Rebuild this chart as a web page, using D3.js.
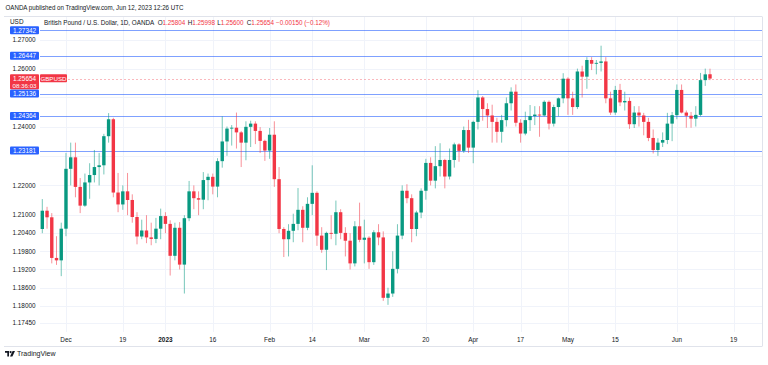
<!DOCTYPE html>
<html><head><meta charset="utf-8">
<script src="https://cdn.jsdelivr.net/npm/d3@7"></script>
<style>
body{margin:0;background:#fff}
svg{display:block}
text{font-family:"Liberation Sans",Arial,sans-serif}
</style>
</head><body>
<svg id="c" width="768" height="365"></svg>
<script>
// ---------- DATA ----------
const dates = [
"2022-11-24","2022-11-25","2022-11-28","2022-11-29","2022-11-30","2022-12-01","2022-12-02","2022-12-05","2022-12-06","2022-12-07",
"2022-12-08","2022-12-09","2022-12-12","2022-12-13","2022-12-14","2022-12-15","2022-12-16","2022-12-19","2022-12-20","2022-12-21",
"2022-12-22","2022-12-23","2022-12-27","2022-12-28","2022-12-29","2022-12-30",
"2023-01-02","2023-01-03","2023-01-04","2023-01-05","2023-01-06","2023-01-09","2023-01-10","2023-01-11","2023-01-12","2023-01-13",
"2023-01-16","2023-01-17","2023-01-18","2023-01-19","2023-01-20","2023-01-23","2023-01-24","2023-01-25","2023-01-26","2023-01-27",
"2023-01-30","2023-01-31",
"2023-02-01","2023-02-02","2023-02-03","2023-02-06","2023-02-07","2023-02-08","2023-02-09","2023-02-10","2023-02-13","2023-02-14",
"2023-02-15","2023-02-16","2023-02-17","2023-02-20","2023-02-21","2023-02-22","2023-02-23","2023-02-24","2023-02-27","2023-02-28",
"2023-03-01","2023-03-02","2023-03-03","2023-03-06","2023-03-07","2023-03-08","2023-03-09","2023-03-10","2023-03-13","2023-03-14",
"2023-03-15","2023-03-16","2023-03-17","2023-03-20","2023-03-21","2023-03-22","2023-03-23","2023-03-24","2023-03-27","2023-03-28",
"2023-03-29","2023-03-30","2023-03-31",
"2023-04-03","2023-04-04","2023-04-05","2023-04-06","2023-04-07","2023-04-10","2023-04-11","2023-04-12","2023-04-13","2023-04-14",
"2023-04-17","2023-04-18","2023-04-19","2023-04-20","2023-04-21","2023-04-24","2023-04-25","2023-04-26","2023-04-27","2023-04-28",
"2023-05-01","2023-05-02","2023-05-03","2023-05-04","2023-05-05","2023-05-08","2023-05-09","2023-05-10","2023-05-11","2023-05-12",
"2023-05-15","2023-05-16","2023-05-17","2023-05-18","2023-05-19","2023-05-22","2023-05-23","2023-05-24","2023-05-25","2023-05-26",
"2023-05-29","2023-05-30","2023-05-31",
"2023-06-01","2023-06-02","2023-06-05","2023-06-06","2023-06-07","2023-06-08","2023-06-09","2023-06-12"];

const openP = [
1.2054,1.2115,1.2093,1.1958,1.1950,1.2055,1.2256,1.2295,1.2195,1.2132,
1.2210,1.2235,1.2262,1.2268,1.2367,1.2425,1.2176,1.2136,1.2180,1.2151,
1.2094,1.2029,1.2049,1.2026,1.2021,1.2055,
1.2097,1.2071,1.1965,1.2058,1.1936,1.2090,1.2180,1.2157,1.2152,1.2218,
1.2229,1.2196,1.2282,1.2349,1.2393,1.2396,1.2380,1.2345,1.2399,1.2410,
1.2385,1.2351,
1.2318,1.2372,1.2221,1.2054,1.2020,1.2048,1.2071,1.2118,1.2058,1.2138,
1.2175,1.2032,1.1985,1.2041,1.2038,1.2110,1.2041,1.2015,1.1940,1.2063,
1.2018,1.2025,1.1944,1.2043,1.2026,1.1827,1.1841,1.1922,1.2032,1.2182,
1.2157,1.2054,1.2109,1.2182,1.2276,1.2216,1.2265,1.2286,1.2230,1.2286,
1.2339,1.2317,1.2388,
1.2328,1.2416,1.2500,1.2460,1.2438,1.2416,1.2382,1.2422,1.2480,1.2520,
1.2413,1.2376,1.2422,1.2436,1.2441,1.2438,1.2485,1.2410,1.2467,1.2497,
1.2565,1.2497,1.2467,1.2590,1.2572,1.2630,1.2617,1.2620,1.2625,1.2497,
1.2448,1.2526,1.2483,1.2488,1.2408,1.2448,1.2438,1.2416,1.2361,1.2320,
1.2345,1.2354,1.2410,
1.2439,1.2526,1.2448,1.2437,1.2427,1.2440,1.2560,1.25804];

const highP = [
1.2154,1.2128,1.2107,1.2030,1.2075,1.2310,1.2345,1.2345,1.2225,1.2240,
1.2275,1.2320,1.2310,1.2375,1.2446,1.2430,1.2242,1.2200,1.2242,1.2170,
1.2110,1.2085,1.2100,1.2075,1.2091,1.2122,
1.2110,1.2083,1.2075,1.2077,1.2100,1.2215,1.2200,1.2180,1.2245,1.2240,
1.2240,1.2292,1.2435,1.2400,1.2405,1.2448,1.2385,1.2418,1.2420,1.2418,
1.2398,1.2355,
1.2395,1.2418,1.2262,1.2060,1.2070,1.2105,1.2191,1.2130,1.2160,1.2268,
1.2180,1.2060,1.2045,1.2100,1.2149,1.2120,1.2060,1.2040,1.2080,1.2142,
1.2085,1.2030,1.2050,1.2070,1.2046,1.1860,1.1980,1.2070,1.2200,1.2204,
1.2170,1.2115,1.2190,1.2290,1.2295,1.2333,1.2343,1.2290,1.2325,1.2345,
1.2343,1.2400,1.2423,
1.2420,1.2525,1.2505,1.2480,1.2475,1.2430,1.2440,1.2500,1.2535,1.2545,
1.2425,1.2451,1.2474,1.2470,1.2470,1.2490,1.2490,1.2475,1.2500,1.2584,
1.2570,1.2520,1.2600,1.2610,1.2640,1.2640,1.2630,1.2680,1.2640,1.2520,
1.2540,1.2547,1.2520,1.2500,1.2470,1.2470,1.2447,1.2430,1.2390,1.2360,
1.2380,1.2447,1.2450,
1.2545,1.2545,1.2455,1.2450,1.2470,1.2585,1.2600,1.25998];

const lowP = [
1.2040,1.2055,1.1940,1.1935,1.1898,1.2030,1.2200,1.2160,1.2107,1.2128,
1.2155,1.2210,1.2200,1.2237,1.2345,1.2160,1.2110,1.2118,1.2100,1.2075,
1.2003,1.2020,1.2007,1.2000,1.2007,1.2020,
1.2040,1.1900,1.1950,1.1920,1.1841,1.2080,1.2120,1.2100,1.2120,1.2150,
1.2170,1.2160,1.2260,1.2300,1.2335,1.2325,1.2262,1.2285,1.2330,1.2340,
1.2310,1.2283,
1.2290,1.2195,1.2040,1.1961,1.1963,1.2010,1.2050,1.2010,1.2050,1.2100,
1.1998,1.1975,1.1918,1.2020,1.2000,1.2020,1.1963,1.1920,1.1930,1.2010,
1.1940,1.1922,1.1935,1.2000,1.1817,1.1804,1.1830,1.1907,1.2020,1.2140,
1.2010,1.2030,1.2090,1.2152,1.2200,1.2190,1.2230,1.2190,1.2220,1.2260,
1.2280,1.2310,1.2310,
1.2275,1.2390,1.2420,1.2395,1.2345,1.2345,1.2345,1.2400,1.2455,1.2400,
1.2345,1.2370,1.2385,1.2405,1.2365,1.2435,1.2390,1.2400,1.2435,1.2480,
1.2440,1.2440,1.2460,1.2500,1.2530,1.2595,1.2580,1.2590,1.2480,1.2440,
1.2440,1.2470,1.2455,1.2392,1.2395,1.2400,1.2370,1.2350,1.2308,1.2300,
1.2330,1.2340,1.2350,
1.2425,1.2445,1.2396,1.2396,1.2400,1.2435,1.2540,1.25600];

const closeP = [
1.2115,1.2093,1.1958,1.1950,1.2055,1.2256,1.2295,1.2195,1.2132,1.2210,
1.2235,1.2262,1.2268,1.2367,1.2425,1.2176,1.2136,1.2180,1.2151,1.2094,
1.2029,1.2049,1.2026,1.2021,1.2055,1.2097,
1.2071,1.1965,1.2058,1.1936,1.2090,1.2180,1.2157,1.2152,1.2218,1.2229,
1.2196,1.2282,1.2349,1.2393,1.2396,1.2380,1.2345,1.2399,1.2410,1.2385,
1.2351,1.2318,
1.2372,1.2221,1.2054,1.2020,1.2048,1.2071,1.2118,1.2058,1.2138,1.2175,
1.2032,1.1985,1.2041,1.2038,1.2110,1.2041,1.2015,1.1940,1.2063,1.2018,
1.2025,1.1944,1.2043,1.2026,1.1827,1.1841,1.1922,1.2032,1.2182,1.2157,
1.2054,1.2109,1.2182,1.2276,1.2216,1.2265,1.2286,1.2230,1.2286,1.2339,
1.2317,1.2388,1.2328,
1.2416,1.2500,1.2460,1.2438,1.2416,1.2382,1.2422,1.2480,1.2520,1.2413,
1.2376,1.2422,1.2436,1.2441,1.2438,1.2485,1.2410,1.2467,1.2497,1.2565,
1.2497,1.2467,1.2590,1.2572,1.2630,1.2617,1.2620,1.2625,1.2497,1.2448,
1.2526,1.2483,1.2488,1.2408,1.2448,1.2438,1.2416,1.2361,1.2320,1.2345,
1.2354,1.2410,1.2439,
1.2526,1.2448,1.2437,1.2427,1.2440,1.2560,1.2580,1.25654];

const priceTicks = [1.27,1.26,1.25,1.24,1.23,1.22,1.21,1.204,1.198,1.192,1.186,1.18,1.1745];
const levelLines = [1.27342,1.26447,1.25136,1.24364,1.23181];
const lastPrice = 1.25654;
const timeTickDates = ["2022-12-01","2022-12-19","2023-01-02","2023-01-16","2023-02-01","2023-02-14","2023-03-01","2023-03-20","2023-04-03","2023-04-17","2023-05-01","2023-05-15","2023-06-01","2023-06-19"];
const timeTickLabels = ["Dec","19","2023","16","Feb","14","Mar","20","Apr","17","May","15","Jun","19"];
const legendTitle = "British Pound / U.S. Dollar, 1D, OANDA";
const legendKeys = ["O","H","L","C"];
const legendValues = ["1.25804","1.25998","1.25600","1.25654"];
const legendChange = "\u22120.00150 (\u22120.12%)";

// ---------- LAYOUT ----------
const W = 768, H = 365;
const plot = {left: 40, right: 762, top: 17, bottom: 332};
const UP = "#089981", DOWN = "#f23645", TXT = "#131722", BLUE = "#2962ff", GRID = "#f0f3fa";

const svg = d3.select("#c");
svg.append("rect").attr("width", W).attr("height", H).attr("fill", "#fff");

const parse = d3.timeParse("%Y-%m-%d");
function idxOf(ds){
  const k = dates.indexOf(ds);
  if (k >= 0) return k;
  let d = parse(dates[dates.length-1]), target = parse(ds), n = dates.length-1;
  while (d < target){ d = d3.timeDay.offset(d,1); const wd = d.getDay(); if (wd>0 && wd<6) n++; }
  return n;
}

const x = d3.scaleLinear().domain([0, dates.length-1]).range([42.3, 710.0]);
const y = d3.scaleLog().domain([1.1745, 1.27]).range([323, 40]);
const fmt = d3.format(".5f");

svg.append("clipPath").attr("id","pc").append("rect")
  .attr("x", plot.left).attr("y", plot.top).attr("width", plot.right-plot.left).attr("height", plot.bottom-plot.top);

// grid
const grid = svg.append("g").attr("clip-path","url(#pc)");
grid.selectAll("line.h").data(priceTicks).join("line")
  .attr("x1", plot.left).attr("x2", plot.right)
  .attr("y1", d => Math.round(y(d))+0.5).attr("y2", d => Math.round(y(d))+0.5)
  .attr("stroke", GRID).attr("stroke-width", 1);
grid.selectAll("line.v").data(timeTickDates).join("line")
  .attr("x1", d => Math.round(x(idxOf(d)))+0.5).attr("x2", d => Math.round(x(idxOf(d)))+0.5)
  .attr("y1", plot.top).attr("y2", plot.bottom)
  .attr("stroke", GRID).attr("stroke-width", 1);

// frame
svg.append("line").attr("x1",4).attr("x2",plot.right).attr("y1",16.5).attr("y2",16.5).attr("stroke","#e0e3eb");
svg.append("line").attr("x1",4).attr("x2",plot.right).attr("y1",346.5).attr("y2",346.5).attr("stroke","#e0e3eb");
svg.append("line").attr("x1",plot.right+0.5).attr("x2",plot.right+0.5).attr("y1",16.5).attr("y2",346.5).attr("stroke","#e0e3eb");

// level lines
const lv = svg.append("g").attr("clip-path","url(#pc)");
lv.selectAll("line").data(levelLines).join("line")
  .attr("x1", plot.left).attr("x2", plot.right)
  .attr("y1", d => Math.round(y(d))+0.5).attr("y2", d => Math.round(y(d))+0.5)
  .attr("stroke", BLUE).attr("stroke-opacity", 0.6).attr("stroke-width", 1);
lv.append("line").attr("x1", plot.left).attr("x2", plot.right)
  .attr("y1", Math.round(y(lastPrice))+0.5).attr("y2", Math.round(y(lastPrice))+0.5)
  .attr("stroke", DOWN).attr("stroke-opacity", 0.35).attr("stroke-dasharray","2,2");

// candles
const data = dates.map((d,i)=>({d, i, o:openP[i], h:highP[i], l:lowP[i], c:closeP[i]}));
const cg = svg.append("g").attr("clip-path","url(#pc)");
const bw = 3.4;
cg.selectAll("line.wick").data(data).join("line")
  .attr("x1", d => x(d.i)).attr("x2", d => x(d.i))
  .attr("y1", d => y(d.h)).attr("y2", d => y(d.l))
  .attr("stroke", d => d.c >= d.o ? UP : DOWN).attr("stroke-opacity", 0.55).attr("stroke-width", 1);
cg.selectAll("rect.body").data(data).join("rect")
  .attr("x", d => x(d.i) - bw/2).attr("width", bw)
  .attr("y", d => y(Math.max(d.o,d.c)))
  .attr("height", d => Math.max(0.8, Math.abs(y(d.o)-y(d.c))))
  .attr("fill", d => d.c >= d.o ? UP : DOWN);

// price axis tick labels (those covered by a level label are hidden, as in the reference)
const labelYs = levelLines.map(v => y(v)).concat([y(lastPrice)]);
const visibleTicks = priceTicks.filter(v => labelYs.every(ly => Math.abs(ly - y(v)) > 7));
svg.append("g").selectAll("text").data(visibleTicks).join("text")
  .attr("x", 24).attr("y", d => y(d)).attr("dy","0.35em")
  .attr("text-anchor","middle").attr("font-size", 6.4).attr("fill", TXT)
  .text(d => fmt(d));

// level labels
const lb = svg.append("g");
levelLines.forEach(v => {
  const yy = y(v);
  lb.append("rect").attr("x", 10).attr("y", yy-4).attr("width", 29).attr("height", 8).attr("rx",1).attr("fill", BLUE);
  lb.append("text").attr("x", 24.5).attr("y", yy).attr("dy","0.35em").attr("text-anchor","middle")
    .attr("font-size", 6.4).attr("fill","#fff").text(fmt(v));
});
{
  const yy = y(lastPrice);
  lb.append("rect").attr("x", 10).attr("y", yy-4.3).attr("width", 29).attr("height", 15).attr("rx",1).attr("fill", DOWN);
  lb.append("text").attr("x", 24.5).attr("y", yy).attr("dy","0.35em").attr("text-anchor","middle")
    .attr("font-size", 6.4).attr("fill","#fff").text(fmt(lastPrice));
  lb.append("text").attr("x", 24.5).attr("y", yy+7).attr("dy","0.35em").attr("text-anchor","middle")
    .attr("font-size", 6.2).attr("fill","#fff").text("08:36:03");
  lb.append("rect").attr("x", 40).attr("y", yy-4.3).attr("width", 27).attr("height", 8).attr("rx",1).attr("fill", DOWN);
  lb.append("text").attr("x", 53.5).attr("y", yy).attr("dy","0.35em").attr("text-anchor","middle")
    .attr("font-size", 6.2).attr("fill","#fff").text("GBPUSD");
}

// time axis labels
svg.append("g").selectAll("text").data(timeTickDates).join("text")
  .attr("x", d => x(idxOf(d))).attr("y", 340).attr("dy","0.35em")
  .attr("text-anchor","middle").attr("font-size", 6.4).attr("fill", TXT)
  .attr("font-weight", (d,i) => timeTickLabels[i] === "2023" ? "bold" : "normal")
  .text((d,i) => timeTickLabels[i]);

// header
svg.append("text").attr("x", 5.5).attr("y", 7.5).attr("dy","0.35em").attr("font-size", 6.8).attr("fill", TXT)
  .attr("textLength", 178).attr("lengthAdjust","spacingAndGlyphs")
  .text("OANDA published on TradingView.com, Jun 12, 2023 12:26 UTC");
svg.append("text").attr("x", 10).attr("y", 22).attr("dy","0.35em").attr("font-size", 6.4).attr("fill", TXT).text("USD");

// legend: one text element, parts placed with tspans
const hy = 22.5;
const lg = svg.append("text").attr("y", hy).attr("dy","0.35em").attr("font-size", 6.3).attr("fill", TXT);
lg.append("tspan").attr("x", 44).text(legendTitle);
const keyX = [157.7, 187.7, 217.2, 246.7];
legendKeys.forEach((k,i) => {
  lg.append("tspan").attr("x", keyX[i]).text(k);
  lg.append("tspan").attr("fill", DOWN).text(legendValues[i]);
});
lg.append("tspan").attr("x", 276).attr("fill", DOWN).text(legendChange);

// footer logo
const lgG = svg.append("g").attr("transform","translate(5,351)");
lgG.append("path").attr("d","M0 0 H4 V5.5 H2.3 V1.7 H0 Z").attr("fill", TXT);
lgG.append("circle").attr("cx",5.6).attr("cy",1.1).attr("r",1.1).attr("fill", TXT);
lgG.append("path").attr("d","M7.6 0 H10 L7.4 5.5 H5 Z").attr("fill", TXT);
svg.append("text").attr("x", 17).attr("y", 354).attr("dy","0.35em").attr("font-size", 7).attr("fill", TXT).text("TradingView");
</script>
</body></html>
